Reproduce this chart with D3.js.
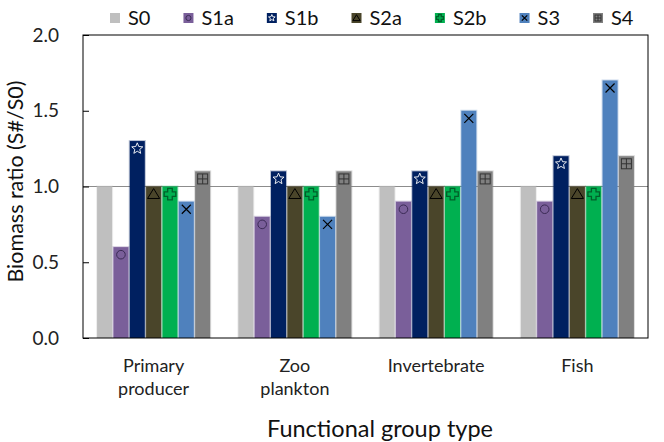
<!DOCTYPE html>
<html><head><meta charset="utf-8">
<script src="https://cdn.jsdelivr.net/npm/d3@7"></script>
<style>body{margin:0;background:#fff}svg{display:block;font-family:Lato,"Open Sans",sans-serif}</style>
</head><body><svg id="c" width="664" height="442"></svg>
<script>
const categories = [["Primary","producer"],["Zoo","plankton"],["Invertebrate"],["Fish"]];
const seriesNames = ["S0","S1a","S1b","S2a","S2b","S3","S4"];
const S0  = [1.0,1.0,1.0,1.0];
const S1a = [0.6,0.8,0.9,0.9];
const S1b = [1.3,1.1,1.1,1.2];
const S2a = [1.0,1.0,1.0,1.0];
const S2b = [1.0,1.0,1.0,1.0];
const S3  = [0.9,0.8,1.5,1.7];
const S4  = [1.1,1.1,1.1,1.2];
const yTicks = [0,0.5,1.0,1.5,2.0];
const seriesValues = [S0,S1a,S1b,S2a,S2b,S3,S4];
const colors = ["#bfbfbf","#7a5f9a","#002060","#4a452a","#00b050","#4f81bd","#808080"];

const svg = d3.select("#c");
const L=83, R=648, T=35, B=338;
const catIdx = d3.range(categories.length);
const x0 = d3.scaleBand().domain(catIdx).range([L,R]).paddingInner(0.19).paddingOuter(0.095);
const x1 = d3.scaleBand().domain(seriesNames).range([0,x0.bandwidth()]).paddingInner(0.08).paddingOuter(0.04);
const y = d3.scaleLinear().domain([0,2]).range([B,T]);

// gridline at 1.0
svg.append("line").attr("x1",L).attr("x2",R).attr("y1",y(1)).attr("y2",y(1))
  .attr("stroke","#8c8c8c").attr("stroke-width",1);

// markers
function drawMarker(g, name, s){
  if(name==="S1a"){
    g.append("circle").attr("r",4.3*s).attr("fill","none").attr("stroke","#3b2b55").attr("stroke-width",1);
  } else if(name==="S1b"){
    const pts=[];for(let i=0;i<10;i++){const r=(i%2?2.6:5.8)*s, a=-Math.PI/2+i*Math.PI/5;pts.push([r*Math.cos(a),r*Math.sin(a)]);}
    g.append("polygon").attr("points",pts.map(p=>p.join(",")).join(" ")).attr("fill","none").attr("stroke","#fff").attr("stroke-width",0.9);
  } else if(name==="S2a"){
    const h=5.5*s;
    g.append("polygon").attr("points",`0,${-h} ${h*1.1},${h*0.8} ${-h*1.1},${h*0.8}`).attr("fill","none").attr("stroke","#000").attr("stroke-width",1);
  } else if(name==="S2b"){
    const a=2.3*s,b=5.8*s;
    const p=[[-a,-b],[a,-b],[a,-a],[b,-a],[b,a],[a,a],[a,b],[-a,b],[-a,a],[-b,a],[-b,-a],[-a,-a]];
    g.append("polygon").attr("points",p.map(q=>q.join(",")).join(" ")).attr("fill","#00b050").attr("stroke","#00602a").attr("stroke-width",1.3);
  } else if(name==="S3"){
    const a=4.5*s;
    g.append("path").attr("d",`M${-a},${-a}L${a},${a}M${a},${-a}L${-a},${a}`).attr("stroke","#000").attr("stroke-width",1.2);
  } else if(name==="S4"){
    const a=5*s;
    g.append("rect").attr("x",-a).attr("y",-a).attr("width",2*a).attr("height",2*a).attr("fill","none").attr("stroke","#333").attr("stroke-width",1);
    g.append("path").attr("d",`M0,${-a}V${a}M${-a},0H${a}`).attr("stroke","#333").attr("stroke-width",1);
  }
}

// bars
seriesNames.forEach((name,si)=>{
  const vals = seriesValues[si];
  const g = svg.append("g");
  g.selectAll("rect.h").data(vals).join("rect")
    .attr("x",(d,i)=>x0(i)+x1(name)-1).attr("y",d=>y(d)-1)
    .attr("width",x1.bandwidth()+2).attr("height",d=>B-y(d)+1)
    .attr("fill",colors[si]).attr("opacity",0.28);
  g.selectAll("rect.b").data(vals).join("rect")
    .attr("x",(d,i)=>x0(i)+x1(name)).attr("y",d=>y(d))
    .attr("width",x1.bandwidth()).attr("height",d=>B-y(d))
    .attr("fill",colors[si]);
  vals.forEach((v,i)=>{
    const mg = svg.append("g").attr("transform",`translate(${x0(i)+x1(name)+x1.bandwidth()/2},${y(v-0.05)})`);
    drawMarker(mg,name,1);
  });
});

// frame
svg.append("rect").attr("x",L).attr("y",T).attr("width",R-L).attr("height",B-T)
  .attr("fill","none").attr("stroke","#000").attr("stroke-width",1);

// y axis (ticks inward)
const yAxis = d3.axisLeft(y).tickValues(yTicks).tickFormat(d3.format(".1f")).tickSizeInner(-6).tickSizeOuter(0).tickPadding(24);
const ya = svg.append("g").attr("transform",`translate(${L},0)`).call(yAxis);
ya.select(".domain").remove();
ya.selectAll("line").attr("stroke","#000");
ya.selectAll("text").attr("font-size",19).attr("fill","#222").attr("font-family","Lato");

// x labels
categories.forEach((lines,i)=>{
  const t = svg.append("text").attr("text-anchor","middle").attr("font-size",18).attr("fill","#222")
    .attr("x",x0(i)+x0.bandwidth()/2).attr("y",372);
  lines.forEach((ln,k)=>t.append("tspan").attr("x",x0(i)+x0.bandwidth()/2).attr("dy",k?23:0).text(ln));
});

// axis titles
svg.append("text").attr("text-anchor","middle").attr("font-size",23.5).attr("fill","#111")
  .attr("x",380).attr("y",437).text("Functional group type");
svg.append("text").attr("text-anchor","middle").attr("font-size",21.5).attr("fill","#111")
  .attr("transform",`translate(23,${(T+B)/2-5}) rotate(-90)`).text("Biomass ratio (S#/S0)");

// legend
let lx = 110;
seriesNames.forEach((name,si)=>{
  const g = svg.append("g").attr("transform",`translate(${lx},0)`);
  g.append("rect").attr("x",0).attr("y",13).attr("width",10).attr("height",10).attr("fill",colors[si]);
  const mg = g.append("g").attr("transform","translate(5,18)");
  drawMarker(mg,name,0.6);
  const t = g.append("text").attr("x",18).attr("y",25).attr("font-size",20).attr("fill","#111").text(name);
  lx += 18 + t.node().getComputedTextLength() + 33;
});
</script></body></html>
